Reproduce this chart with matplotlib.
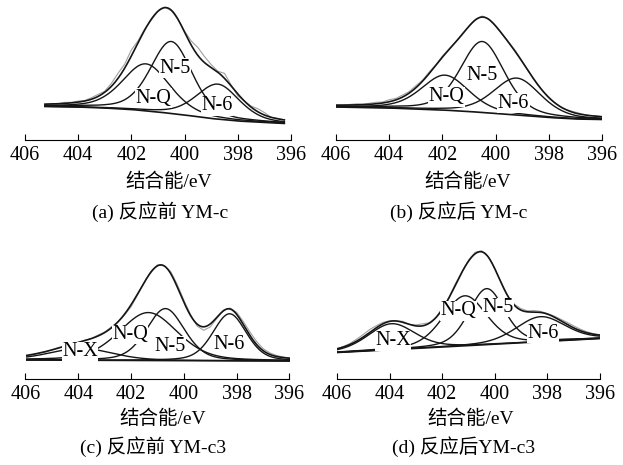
import matplotlib
matplotlib.use('Agg')
import matplotlib.pyplot as plt
import numpy as np

plt.rcParams['font.family'] = ['Liberation Serif', 'Noto Sans CJK SC']

# binding energy ticks
tick_ev = [406, 404, 402, 400, 398, 396]
xlabel = '结合能/eV'
captions = ['(a) 反应前 YM-c', '(b) 反应后 YM-c', '(c) 反应前 YM-c3', '(d) 反应后YM-c3']

# fitted peaks: name, centre (eV), height above baseline, FWHM (eV)
peaks_a = [('N-Q', 401.45, 47, 2.1), ('N-5', 400.5, 72, 1.85), ('N-6', 398.75, 35, 1.9)]
peaks_b = [('N-Q', 401.9, 35, 2.1), ('N-5', 400.5, 71, 1.95), ('N-6', 399.2, 37, 2.1)]
peaks_c = [('N-X', 403.9, 12, 2.8), ('N-Q', 401.35, 48, 2.6), ('N-5', 400.7, 52, 1.7), ('N-6', 398.27, 47, 1.5)]
peaks_d = [('N-X', 403.93, 26, 2.1), ('N-Q', 401.14, 50, 1.95), ('N-5', 400.31, 56, 1.6), ('N-6', 398.26, 25, 2.2)]
lorentz_frac = [0.35, 0.35, 0.3, 0.28]

# background (Shirley / linear) knots
base_ev_a = [405.3, 404, 403, 402, 401, 400, 399, 398, 397, 396.2]
base_h_a = [33.5, 33, 32, 30.5, 28, 25, 21.5, 19, 17.5, 16.5]
base_ev_b = [406, 405, 404, 403, 402, 401, 400, 399, 398, 397, 396]
base_h_b = [33, 32.5, 32, 31, 30, 28.5, 26.5, 24.5, 22.5, 21, 20.5]
base_ev_c = [406, 402, 398, 396]
base_h_c = [18.5, 18, 17.7, 17.5]
base_ev_d = [406, 404, 402, 400, 398, 396]
base_h_d = [26, 28.7, 31.5, 34.3, 37.2, 40]

# measured spectrum: deviation from the fit envelope, every 0.25 eV (high -> low eV)
ev_range = [(405.25, 396.25), (406, 396), (406, 396), (406, 396)]
resid_a = [0, 0.5, 0, 1, 0.5, 1, 0.5, 1.5, 2, 1, 3, 5, 4, 6, 2, 1, -1, 0, 0.5, -0.5, 0,
           1, 4, 8, 6, 3, 1, 5, 1, -2, 0, 1, 3, 2.5, 0, 0.5, 0]
resid_b = [0.5, 0, 0.5, 1, 0.5, 1, 1.5, 1, 2, 1.5, 2, 1.5, 2, 1, 1.5, 0.5, 1, 0.5, 0, 0.5, 0,
           0.5, 1, 0, -0.5, 0, 0.5, 1, 0.5, 0, -0.5, 0, 0.5, 0, -0.5, 0.5, 1, 0.5, 0, 0.5, 0]
resid_c = [-1, -0.5, 0, -0.5, 0, 0.5, 0, 0.5, 0, 0.5, 0, 1, 0.5, 1, 0, -1, -2, -1, 0, 1, 1,
           0, 2, 2.5, 2, 1, -2, -3.5, -3, -1, 0.5, 1, 2, 3, 3.5, 3, 2, 1.5, 1, 0.5, 0]
resid_d = [0, 0.5, 1, 2, 2.5, 3, 2, 1.5, 0.5, 0, 1, 0, 1, 2, 0.5, 0, 1, 0.5, 1.5, 0.5, 1,
           1.5, 1, 0, 0, 0.5, 0, 1, 1.5, 1, 1.5, 1, 0.5, 1, 1.5, 2, 2, 1.5, 1, 0.5, 0]

# label positions (eV, height)
labels_a = {'N-Q': (401.18, 41.7), 'N-5': (400.36, 71.7), 'N-6': (398.79, 34)}
labels_b = {'N-Q': (401.84, 43.3), 'N-5': (400.52, 65), 'N-6': (399.33, 36.7)}
labels_c = {'N-X': (403.94, 26.6), 'N-Q': (402.04, 44), 'N-5': (400.52, 32.3), 'N-6': (398.3, 34.3)}
labels_d = {'N-X': (403.87, 37.6), 'N-Q': (401.39, 67.6), 'N-5': (399.87, 71), 'N-6': (398.16, 45)}


def pvoigt(x, c, a, fwhm, eta):
    t = (x - c) / fwhm
    return a * ((1 - eta) * np.exp(-4 * np.log(2) * t ** 2) + eta / (1 + 4 * t ** 2))


def fit_curves(x, peaks, bev, bh, eta):
    base = np.interp(x, bev[::-1], bh[::-1])
    comps = [base + pvoigt(x, c, a, w, eta) for _, c, a, w in peaks]
    env = base + sum(pvoigt(x, c, a, w, eta) for _, c, a, w in peaks)
    return base, comps, env


W, H = 623, 465
fig = plt.figure(figsize=(W / 100, H / 100), dpi=100)

# (left px, right px, axis line px)
boxes = [(25, 291, 140), (336, 602, 140), (25.5, 289.5, 378.5), (337, 600, 378.5)]
text_pos = [(169, 160, 182, 212), (468, 459, 182, 212), (162.5, 153, 418.5, 447), (471, 464, 418.5, 447)]

panels = [(peaks_a, base_ev_a, base_h_a, resid_a, labels_a),
          (peaks_b, base_ev_b, base_h_b, resid_b, labels_b),
          (peaks_c, base_ev_c, base_h_c, resid_c, labels_c),
          (peaks_d, base_ev_d, base_h_d, resid_d, labels_d)]

for i, (peaks, bev, bh, resid, labs) in enumerate(panels):
    l, r, yax = boxes[i]
    ax = fig.add_axes([l / W, (H - yax) / H, (r - l) / W, 135 / H])
    ax.set_xlim(406, 396)
    ax.set_ylim(0, 135)
    for s in ['left', 'right', 'top']:
        ax.spines[s].set_visible(False)
    ax.spines['bottom'].set_linewidth(0.8)
    ax.set_yticks([])
    ax.set_xticks(tick_ev)
    ax.tick_params(axis='x', direction='in', length=4.5, width=0.8, pad=4.5, labelsize=14.5)

    hi, lo = ev_range[i]
    xs = np.linspace(hi, lo, 500)
    base, comps, env = fit_curves(xs, peaks, bev, bh, lorentz_frac[i])

    xd = np.arange(hi, lo - 0.01, -0.25)
    _, _, env_d = fit_curves(xd, peaks, bev, bh, lorentz_frac[i])
    ax.plot(xd, env_d + np.array(resid), color='#a0a0a0', lw=0.8, zorder=2)

    ax.plot(xs, base, color='#151515', lw=1.2, zorder=3)
    for cc in comps:
        ax.plot(xs, cc, color='#151515', lw=1.0, zorder=3)
    ax.plot(xs, env, color='#151515', lw=1.2, zorder=3)

    for name, (lx, ly) in labs.items():
        ax.text(lx, ly, name, fontsize=14.5, ha='center', va='center', zorder=5,
                bbox=dict(facecolor='white', edgecolor='none', pad=0.3))

    xl, xc, yl, yc = text_pos[i]
    fig.text(xl / W, 1 - yl / H, xlabel, fontsize=14, ha='center', va='center')
    fig.text(xc / W, 1 - yc / H, captions[i], fontsize=14, ha='center', va='center')

fig.savefig('out.png', dpi=100)
